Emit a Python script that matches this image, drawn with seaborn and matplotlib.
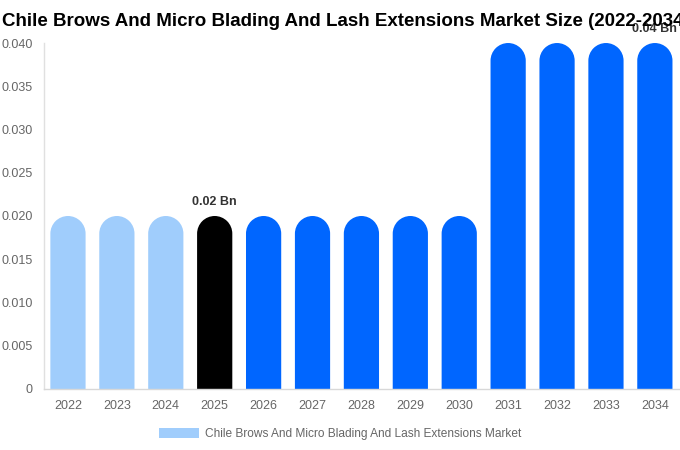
import matplotlib
matplotlib.use("Agg")
import matplotlib.pyplot as plt
import seaborn as sns
import pandas as pd
import numpy as np
from matplotlib.patches import PathPatch, Patch
from matplotlib.path import Path

years = ["2022", "2023", "2024", "2025", "2026", "2027", "2028", "2029", "2030",
         "2031", "2032", "2033", "2034"]
values = [0.02, 0.02, 0.02, 0.02, 0.02, 0.02, 0.02, 0.02, 0.02,
          0.04, 0.04, 0.04, 0.04]
bar_colors = ["#a0cdfc"] * 3 + ["#000000"] + ["#0066ff"] * 9
yticks = [0, 0.005, 0.010, 0.015, 0.020, 0.025, 0.030, 0.035, 0.040]
ytick_labels = ["0", "0.005", "0.010", "0.015", "0.020", "0.025", "0.030", "0.035", "0.040"]
title = "Chile Brows And Micro Blading And Lash Extensions Market Size (2022-2034)"
legend_label = "Chile Brows And Micro Blading And Lash Extensions Market"
annotations = {3: "0.02 Bn", 12: "0.04 Bn"}

sns.set_theme(style="white")
plt.rcParams["font.family"] = ["Liberation Sans", "DejaVu Sans"]

df = pd.DataFrame({"year": years, "value": values})

fig = plt.figure(figsize=(6.8, 4.5), dpi=100)
ax = fig.add_axes([0.064, 0.1356, 0.935, 0.7688])
sns.barplot(data=df, x="year", y="value", hue="year", palette=bar_colors,
            legend=False, width=0.72, ax=ax, saturation=1)
ax.set_ylim(0, 0.04)
ax.set_xlim(-0.5, len(years) - 0.5)

# rounded tops: replace each bar by a single path with a semicircular cap
fig.canvas.draw()
bbox = ax.get_window_extent()
y_per_px = 0.04 / bbox.height
x_per_px = len(years) / bbox.width
arc = Path.arc(0, 180)
for p in list(ax.patches):
    x0 = p.get_x()
    w = p.get_width()
    h = p.get_height()
    r_data = ((w / x_per_px) / 2) * y_per_px
    cx = x0 + w / 2
    cy = h - r_data
    av = arc.vertices.copy()
    av[:, 0] = cx + av[:, 0] * (w / 2)
    av[:, 1] = cy + av[:, 1] * r_data
    ac = arc.codes.copy()
    ac[0] = Path.LINETO
    verts = np.vstack([[[x0, 0], [x0 + w, 0]], av, [[x0, 0]]])
    codes = np.concatenate([[Path.MOVETO, Path.LINETO], ac, [Path.CLOSEPOLY]])
    pp = PathPatch(Path(verts, codes), facecolor=p.get_facecolor(),
                   edgecolor="none", linewidth=0, zorder=p.get_zorder())
    p.set_visible(False)
    ax.add_patch(pp)

for i, txt in annotations.items():
    ax.text(i, values[i] + 0.0009, txt, ha="center", va="bottom",
            fontsize=9, fontweight="bold", color="#333333", zorder=1)

ax.set_yticks(yticks)
ax.set_yticklabels(ytick_labels)
ax.tick_params(axis="both", labelsize=9, colors="#666666", length=0)
ax.tick_params(axis="x", pad=8)
ax.tick_params(axis="y", pad=8)
ax.set_xlabel("")
ax.set_ylabel("")
for s in ["top", "right"]:
    ax.spines[s].set_visible(False)
ax.spines["left"].set_color("#e0e0e0")
ax.spines["bottom"].set_color("#d8d8d8")
ax.spines["left"].set_linewidth(1)
ax.spines["bottom"].set_linewidth(1)

fig.text(0.509, 0.97, title, ha="center", va="top", fontsize=13.5,
         fontweight="bold", color="#000000", zorder=5)

handle = Patch(facecolor="#a0cdfc", edgecolor="none")
fig.legend([handle], [legend_label], loc="center", bbox_to_anchor=(0.5, 0.036),
           frameon=False, fontsize=8.6, labelcolor="#666666",
           handlelength=3.3, handleheight=0.9, handletextpad=0.5)

fig.savefig("out.png", dpi=100)
